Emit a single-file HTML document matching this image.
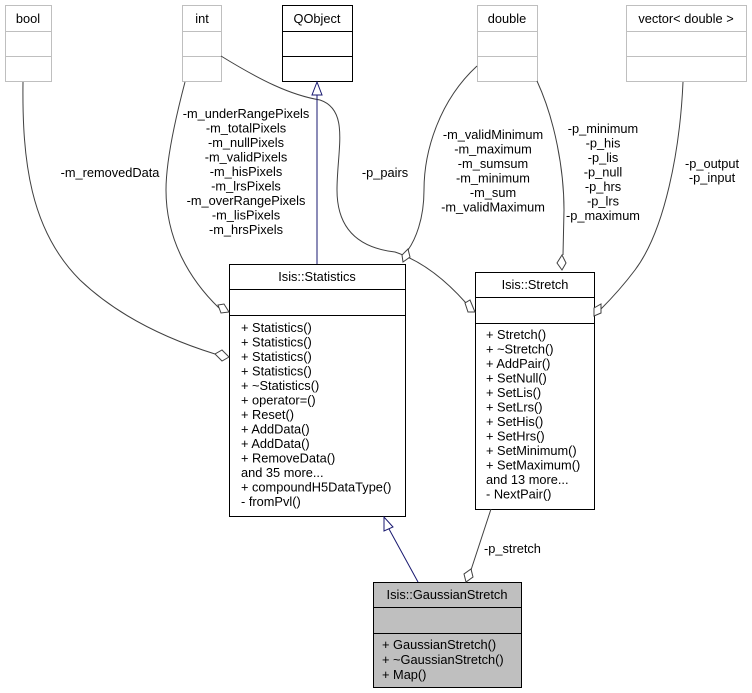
<!DOCTYPE html>
<html><head><meta charset="utf-8"><style>
html,body{margin:0;padding:0;background:#fff;}
svg{display:block;}
text{font-family:"Liberation Sans",Arial,sans-serif;font-size:12.8px;fill:#000;}
</style></head><body>
<svg width="752" height="693" viewBox="0 0 752 693" xmlns="http://www.w3.org/2000/svg">
<g fill="#fff" stroke="#bfbfbf" stroke-width="1">
<rect x="5.5" y="5.5" width="46" height="76"/><line x1="5.5" y1="31.5" x2="51.5" y2="31.5"/><line x1="5.5" y1="56.5" x2="51.5" y2="56.5"/>
<rect x="182.5" y="5.5" width="39" height="76"/><line x1="182.5" y1="31.5" x2="221.5" y2="31.5"/><line x1="182.5" y1="56.5" x2="221.5" y2="56.5"/>
<rect x="477.5" y="5.5" width="60" height="76"/><line x1="477.5" y1="31.5" x2="537.5" y2="31.5"/><line x1="477.5" y1="56.5" x2="537.5" y2="56.5"/>
<rect x="626.5" y="5.5" width="120" height="76"/><line x1="626.5" y1="31.5" x2="746.5" y2="31.5"/><line x1="626.5" y1="56.5" x2="746.5" y2="56.5"/>
</g>
<g fill="#fff" stroke="#000" stroke-width="1">
<rect x="282.5" y="5.5" width="70" height="76"/><line x1="282.5" y1="31.5" x2="352.5" y2="31.5"/><line x1="282.5" y1="56.5" x2="352.5" y2="56.5"/>
<rect x="229.5" y="264.5" width="176" height="252"/><line x1="229.5" y1="289.5" x2="405.5" y2="289.5"/><line x1="229.5" y1="315.5" x2="405.5" y2="315.5"/>
<rect x="475.5" y="272.5" width="119" height="237"/><line x1="475.5" y1="297.5" x2="594.5" y2="297.5"/><line x1="475.5" y1="323.5" x2="594.5" y2="323.5"/>
<rect x="373.5" y="582.5" width="148" height="105" fill="#bfbfbf"/><line x1="373.5" y1="607.5" x2="521.5" y2="607.5"/><line x1="373.5" y1="633.5" x2="521.5" y2="633.5"/>
</g>
<g text-anchor="middle">
<text x="28" y="23">bool</text>
<text x="202" y="23">int</text>
<text x="317" y="23">QObject</text>
<text x="507" y="23">double</text>
<text x="686" y="23">vector&lt; double &gt;</text>
<text x="317" y="281">Isis::Statistics</text>
<text x="535" y="289">Isis::Stretch</text>
<text x="447" y="599">Isis::GaussianStretch</text>
</g>
<g>
<text x="241" y="332">+ Statistics()</text>
<text x="241" y="346.5">+ Statistics()</text>
<text x="241" y="361">+ Statistics()</text>
<text x="241" y="375.5">+ Statistics()</text>
<text x="241" y="390">+ ~Statistics()</text>
<text x="241" y="404.5">+ operator=()</text>
<text x="241" y="419">+ Reset()</text>
<text x="241" y="433.5">+ AddData()</text>
<text x="241" y="448">+ AddData()</text>
<text x="241" y="462.5">+ RemoveData()</text>
<text x="241" y="477">and 35 more...</text>
<text x="241" y="491.5">+ compoundH5DataType()</text>
<text x="241" y="506">- fromPvl()</text>
<text x="486" y="339">+ Stretch()</text>
<text x="486" y="353.5">+ ~Stretch()</text>
<text x="486" y="368">+ AddPair()</text>
<text x="486" y="382.5">+ SetNull()</text>
<text x="486" y="397">+ SetLis()</text>
<text x="486" y="411.5">+ SetLrs()</text>
<text x="486" y="426">+ SetHis()</text>
<text x="486" y="440.5">+ SetHrs()</text>
<text x="486" y="455">+ SetMinimum()</text>
<text x="486" y="469.5">+ SetMaximum()</text>
<text x="486" y="484">and 13 more...</text>
<text x="486" y="498.5">- NextPair()</text>
<text x="382" y="649">+ GaussianStretch()</text>
<text x="382" y="664">+ ~GaussianStretch()</text>
<text x="382" y="679">+ Map()</text>
<text x="484" y="553">-p_stretch</text>
</g>
<g text-anchor="middle">
<text x="110" y="177">-m_removedData</text>
<text x="385" y="177">-p_pairs</text>
<text x="246" y="118">-m_underRangePixels</text>
<text x="246" y="132.5">-m_totalPixels</text>
<text x="246" y="147">-m_nullPixels</text>
<text x="246" y="161.5">-m_validPixels</text>
<text x="246" y="176">-m_hisPixels</text>
<text x="246" y="190.5">-m_lrsPixels</text>
<text x="246" y="205">-m_overRangePixels</text>
<text x="246" y="219.5">-m_lisPixels</text>
<text x="246" y="234">-m_hrsPixels</text>
<text x="493" y="139">-m_validMinimum</text>
<text x="493" y="153.5">-m_maximum</text>
<text x="493" y="168">-m_sumsum</text>
<text x="493" y="182.5">-m_minimum</text>
<text x="493" y="197">-m_sum</text>
<text x="493" y="211.5">-m_validMaximum</text>
<text x="603" y="133">-p_minimum</text>
<text x="603" y="147.5">-p_his</text>
<text x="603" y="162">-p_lis</text>
<text x="603" y="176.5">-p_null</text>
<text x="603" y="191">-p_hrs</text>
<text x="603" y="205.5">-p_lrs</text>
<text x="603" y="220">-p_maximum</text>
<text x="712" y="168">-p_output</text>
<text x="712" y="182">-p_input</text>
</g>
<g fill="none" stroke="#404040" stroke-width="1">
<path d="M23,82 C22,160 30,230 80,280 C120,318 170,340 215,354"/>
<path d="M185,82 C175,120 166,160 166,190 C166,240 190,280 219,308"/>
<path d="M221,56 C260,80 290,95 320,100 C350,110 337,150 337,190 C337,230 360,248 395,252 C425,262 450,285 466,303"/>
<path d="M477,66 C440,100 424,150 424,190 C424,220 415,240 408,250"/>
<path d="M537,81 C555,120 564,170 564,210 L563,255"/>
<path d="M683,82 C680,150 665,230 635,270 C620,290 608,302 600,310"/>
<path d="M491,509 L471,570"/>
</g>
<g fill="#fff" stroke="#404040" stroke-width="1">
<polygon points="229,357 222,361 215,354 222,350"/>
<polygon points="229,312 221,313 218,305 224,304"/>
<polygon points="475,312 468,312 465,303 470,300"/>
<polygon points="403,262 402,255 408,249 410,257"/>
<polygon points="562,270 557,263 562,255 566,263"/>
<polygon points="594,316 594,308 601,304 601,313"/>
<polygon points="466,582 464,574 471,569 473,577"/>
</g>
<g fill="#fff" stroke="#191970" stroke-width="1">
<line x1="317" y1="95" x2="317" y2="264"/>
<polygon points="317,82 312,95 322,95"/>
<line x1="418" y1="582" x2="389" y2="529"/>
<polygon points="384,517 384,531 393,527"/>
</g>
</svg>
</body></html>
